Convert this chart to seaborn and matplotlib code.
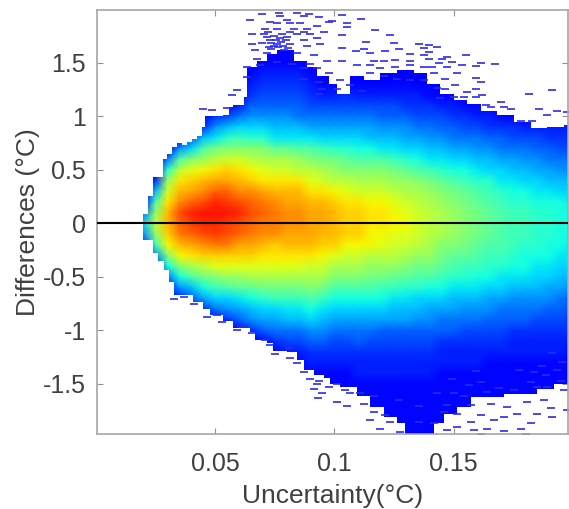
import numpy as np
import pandas as pd
import matplotlib
matplotlib.use('Agg')
import matplotlib.pyplot as plt
from matplotlib.colors import LinearSegmentedColormap
from matplotlib.patches import Polygon
import seaborn as sns

# density levels, base 36 (0 blue, b cyan, o yellow, z red)
# one string per uncertainty bin, going from +2.0 down to -2.0 in 0.1 steps
uncertainty_bins = [0.015 + 0.005 * i for i in range(38)]
density_columns = [
    "0000000000 0000000006 a 7300000000 0000000000",
    "0000000000 0000000006 a 7300000000 0000000000",
    "0000000000 00000039fj l je72000000 0000000000",
    "0000000000 00016djmpr r qoic620000 0000000000",
    "0000000000 0007flprtw v uroic72000 0000000000",
    "0000000000 005ainqsvy x vspkf95100 0000000000",
    "0000000000 039fjortwz y wtqlhc8300 0000000000",
    "0000000000 37bhlpsvyz y xuqniea620 0000000000",
    "0000000001 49dimqsvxz x wuqnjfa730 0000000000",
    "0000000002 6aeimprtwy w vsqnjgb851 0000000000",
    "0000001235 7adiloqtvw v usqnkgc973 0000000000",
    "0000012345 7adiknpsuv u trpnkhda85 1000000000",
    "0000012345 79bgkmprtu u tqpnkhea86 3100000000",
    "0000112345 79bgkmprst t srpnkheb96 4200000000",
    "0000112345 69bfjlprst t srpnkheb96 4210000000",
    "0000001234 68bfilnprs s srpmkifca7 5321000000",
    "0000000124 68aehkmprs s rqomkheb97 5321000000",
    "0000000124 68adhjloqr r rqnkifca86 4321100000",
    "0000000134 68adgilnpq q qomkifca86 4321100000",
    "0000000124 68acfikmpq q qomkifca86 5322110000",
    "0000000124 689cfikmop p ooljhfca86 4322111000",
    "0000000124 579bfikmop p onljheca85 4322111100",
    "0000000124 579behjlno o nmljgeb985 4322111110",
    "0000000123 578adgjkmn o nmkigdb985 4322111111",
    "0000000023 468acfiklm m mljhfda975 4322111111",
    "0000000013 4679behjkl l lkjhfca875 4322111110",
    "0000000012 4579bdgijk k kihgeca865 3221111100",
    "0000000002 3568acfhij j jigfdb9865 3221111000",
    "0000000001 3468aceghi i ihgedb9764 3221111000",
    "0000000001 24679bdfgh h hgfecb9764 3221111000",
    "0000000000 23579adefg g gfedca8754 3211111000",
    "0000000000 13568abdef f ffedba8654 3211111000",
    "0000000000 134689bcde e eedcb97653 2211111000",
    "0000000000 124679acde e edccb97653 2211110000",
    "0000000000 024578abcd d ddcba97643 2211110000",
    "0000000000 0235689bcd d dccba87543 2211110000",
    "0000000000 0234679acc c ccba986543 2211110000",
    "0000000000 0234679abc c cbba975433 2111110000",
]

# outer edge of the solid area
top_x = [.0199, .0220, .0241, .0280, .0299, .0320, .0341, .0360, .0381, .0402, .0422, .0443, .0457, .0534,
         .0556, .0576, .0619, .0633, .0675, .0717, .0759, .0829, .0885, .0927, .0976, .1011, .1067, .1123,
         .1193, .1263, .1333, .1389, .1445, .1501, .1557, .1613, .1683, .1753, .1823, .1893, .1963, .1985]
top_y = [.09, .26, .43, .60, .65, .71, .75, .73, .76, .79, .82, .90, 1.0, 1.01,
         1.09, 1.11, 1.18, 1.46, 1.52, 1.58, 1.62, 1.52, 1.46, 1.38, 1.30, 1.21, 1.38, 1.34,
         1.41, 1.43, 1.41, 1.30, 1.21, 1.15, 1.12, 1.05, 1.01, .95, .89, .90, .92, .92]
bottom_x = [.0199, .0241, .0262, .0283, .0304, .0325, .0381, .0408, .045, .0478, .0534, .0576, .0646, .0667,
            .0716, .0744, .08, .0843, .0871, .0913, .0955, .0983, .1025, .1095, .1151, .1207, .1263, .1298,
            .1389, .1417, .1459, .1515, .1571, .1641, .1711, .1781, .1851, .1921, .1985]
bottom_y = [-.16, -.28, -.35, -.44, -.55, -.67, -.67, -.74, -.80, -.86, -.91, -.98, -1.02, -1.09,
            -1.12, -1.19, -1.20, -1.28, -1.37, -1.42, -1.45, -1.50, -1.53, -1.61, -1.72, -1.81, -1.87, -1.97,
            -1.97, -1.87, -1.78, -1.72, -1.62, -1.62, -1.60, -1.60, -1.55, -1.50, -1.47]

# isolated counts outside the solid area
speck_x = [.0647, .0696, .0766, .0773, .0843, .0871, .0892, .0934, .0976, .0730, .0800, .0857, .0885, .0927,
           .0710, .0759, .0829, .0899, .0955, .0654, .0703, .0800, .0871, .0927, .0654, .0696, .0814, .0885,
           .0941, .0668, .0717, .0787, .0843, .0913, .0675, .0759, .0822, .0899, .0969, .0633, .0689, .0871,
           .0927, .0976, .0633, .0871, .0934, .0948, .0934, .0591, .0570, .0450, .0485, .0548, .073, .0759,
           .078, .0717, .0814, .0843, .0759, .0814, .0871, .0735, .0725, .0745, .0765, .0785, .0805, .0735,
           .0755, .0775, .0795, .0720, .0745, .0770,
           .1032, .0990, .1053, .1053, .1112, .1172, .1232, .1032, .1134, .1249, .1354, .1396, .1032, .1123,
           .1270, .1375, .1431, .1214, .1092, .1151, .1319, .1396, .1375, .1473, .1494, .1452, .1613, .1673,
           .1553, .1032, .1165, .1207, .1256, .1319, .1396, .1438, .1473, .1536, .1592, .1410, .1095, .1151,
           .1193, .1256, .1319, .1375, .1515, .1466, .1595, .1613, .1508, .1557, .1592, .1816, .1914, .1620,
           .1697, .1634, .1655, .1858, .1935, .1977, .1711, .1739, .1893, .1830, .1781, .1151, .1207, .1263,
           .1319, .1375, .1417, .1067, .1025, .1011, .1116, .1431, .1466, .1445, .1501, .1543, .1592,
           .0329, .0371, .0409, .0467, .0507, .0528, .0591, .0612, .0654, .0710, .0731, .0794, .0752, .0808,
           .0815, .0843, .0871, .0899, .0934, .0927, .0913, .0948, .0932, .0976,
           .1011, .1046, .1067, .1109, .1165, .1011, .1053, .1123, .1165, .1151, .1214, .1270, .1193, .1235,
           .1277, .1354, .1354, .1431, .1501, .1494, .1564, .1613, .1592, .1774, .1837, .1872, .1914, .1956,
           .1935, .1886, .1823, .1851, .1753, .1690, .1641, .1543, .1473, .1515, .1571, .1655, .1725, .1809,
           .1893, .1949, .1963, .1977, .1914, .1851, .1823, .1767, .1711, .1669, .1613, .1571, .1515, .1473,
           .1417, .1641, .1711, .1802, .1613, .1907, .1879, .1781, .1585, .1459]
speck_y = [1.90, 1.96, 1.97, 1.94, 1.97, 1.94, 1.96, 1.93, 1.88, 1.88, 1.90, 1.87, 1.82, 1.85,
           1.82, 1.82, 1.82, 1.77, 1.79, 1.77, 1.77, 1.74, 1.71, 1.73, 1.68, 1.69, 1.68, 1.66,
           1.68, 1.62, 1.59, 1.62, 1.59, 1.57, 1.54, 1.51, 1.49, 1.49, 1.52, 1.46, 1.48, 1.45,
           1.45, 1.41, 1.37, 1.35, 1.32, 1.26, 1.21, 1.25, 1.20, 1.07, 1.06, 1.08, 1.71, 1.68,
           1.77, 1.74, 1.79, 1.77, 1.87, 1.87, 1.79, 1.63, 1.65, 1.66, 1.65, 1.66, 1.64, 1.69,
           1.71, 1.70, 1.71, 1.79, 1.75, 1.73,
           1.95, 1.89, 1.87, 1.84, 1.91, 1.81, 1.76, 1.76, 1.70, 1.69, 1.68, 1.67, 1.64, 1.63,
           1.63, 1.64, 1.65, 1.61, 1.61, 1.59, 1.58, 1.60, 1.57, 1.56, 1.51, 1.54, 1.50, 1.49,
           1.57, 1.52, 1.52, 1.52, 1.53, 1.52, 1.54, 1.50, 1.46, 1.48, 1.47, 1.46, 1.48, 1.48,
           1.45, 1.46, 1.48, 1.46, 1.41, 1.35, 1.36, 1.32, 1.29, 1.23, 1.26, 1.21, 1.25, 1.20,
           1.13, 1.11, 1.09, 1.07, 1.05, 1.04, 1.09, 1.07, 1.01, .96, .96, 1.41, 1.38, 1.35,
           1.34, 1.34, 1.41, 1.29, 1.34, 1.26, 1.24, 1.27, 1.26, 1.17, 1.18, 1.18, 1.18,
           -.71, -.69, -.75, -.88, -.86, -.92, -1.0, -.97, -1.03, -1.09, -1.14, -1.11, -1.22, -1.17,
           -1.26, -1.31, -1.39, -1.46, -1.47, -1.50, -1.55, -1.59, -1.63, -1.53,
           -1.50, -1.56, -1.59, -1.59, -1.61, -1.67, -1.71, -1.69, -1.76, -1.84, -1.79, -1.65, -1.92, -1.86,
           -1.95, -1.71, -1.86, -1.59, -1.59, -1.46, -1.51, -1.48, -1.38, -1.37, -1.39, -1.33, -1.21, -1.30,
           -1.37, -1.42, -1.48, -1.53, -1.56, -1.54, -1.58, -1.61, -1.70, -1.78, -1.70, -1.69, -1.72, -1.67,
           -1.53, -1.47, -1.56, -1.75, -1.81, -1.78, -1.87, -1.78, -1.81, -1.84, -1.79, -1.86, -1.90, -1.93,
           -1.87, -1.92, -1.94, -1.97, -1.97, -1.73, -1.65, -1.92, -1.93, -1.76]

x_ticks = [0.05, 0.1, 0.15]
x_tick_labels = ['0.05', '0.1', '0.15']
y_ticks = [1.5, 1, 0.5, 0, -0.5, -1, -1.5]
y_tick_labels = ['1.5', '1', '0.5', '0', '-0.5', '-1', '-1.5']

sns.set_style('white')
plt.rcParams['font.family'] = ['Liberation Sans', 'DejaVu Sans']


def to_col(x):
    return (np.asarray(x) - 0.015) / 0.005


def to_row(y):
    return (2.0 - np.asarray(y)) / 0.1


def steps(xs, ys):
    pts = []
    for i in range(len(xs) - 1):
        pts += [(xs[i], ys[i]), (xs[i + 1], ys[i])]
    return pts


levels = [[int(c, 36) for c in col.replace(' ', '')] for col in density_columns]
density = pd.DataFrame(np.array(levels, dtype=float).T, columns=uncertainty_bins)

fig = plt.figure(figsize=(5.69, 5.09), dpi=100)
ax = fig.add_axes([97 / 569, (509 - 434) / 509, 471 / 569, 424 / 509])

jet_part = LinearSegmentedColormap.from_list('jet_part', plt.cm.jet(np.linspace(0.11, 0.89, 256)))
sns.heatmap(density, ax=ax, cmap=jet_part, vmin=0, vmax=35, cbar=False,
            xticklabels=False, yticklabels=False, shading='gouraud')

# keep the colour only inside the stepped edge
outline = np.array(steps(top_x, top_y) + steps(bottom_x, bottom_y)[::-1])
outline = np.column_stack([to_col(outline[:, 0]), to_row(outline[:, 1])])
ax.collections[0].set_clip_path(Polygon(outline, transform=ax.transData))

sns.scatterplot(x=to_col(speck_x), y=to_row(speck_y), ax=ax, marker='_', s=26, linewidth=1.2,
                color='#2a2af0', legend=False)

ax.axhline(to_row(0), color='black', linewidth=1.5, zorder=5)

ax.set_xlim(to_col(0.0004), to_col(0.198))
ax.set_ylim(to_row(-1.97), to_row(1.995))

ax.set_xticks(to_col(x_ticks))
ax.set_xticklabels(x_tick_labels)
ax.set_yticks(to_row(y_ticks))
ax.set_yticklabels(y_tick_labels)
ax.tick_params(direction='in', length=4, width=0.8, color='#909090', labelcolor='#404040',
               labelsize=18, top=True, right=True, bottom=True, left=True, pad=8)
ax.tick_params(axis='x', pad=13)
ax.set_xlabel('Uncertainty(°C)', fontsize=19, color='#404040', labelpad=6, visible=True)
ax.set_ylabel('Differences (°C)', fontsize=19, color='#404040', labelpad=2, visible=True)

for spine in ax.spines.values():
    spine.set_visible(True)
    spine.set_color('#a6a6a6')
    spine.set_linewidth(1.2)

fig.savefig('out.png', dpi=100)
